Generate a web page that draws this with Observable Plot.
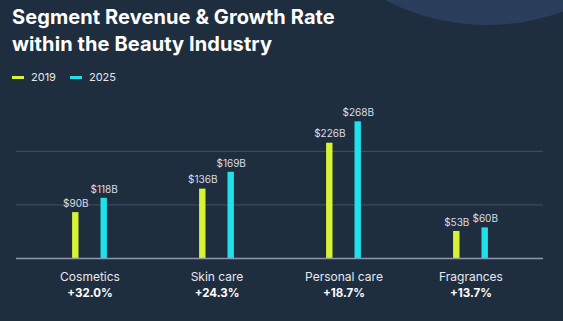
<!DOCTYPE html>
<html>
<head>
<meta charset="utf-8">
<script src="https://cdn.jsdelivr.net/npm/d3@7"></script>
<script src="https://cdn.jsdelivr.net/npm/@observablehq/plot@0.6"></script>
<style>
  html, body { margin: 0; padding: 0; background: #1f2e3f; }
  #wrap { position: relative; width: 563px; height: 321px; overflow: hidden; background: #1f2e3f; font-family: Inter, "Open Sans", sans-serif; }
  #blob { position: absolute; left: 267px; top: -415px; width: 440px; height: 440px; border-radius: 50%; background: #2a3e5c; }
  #title { position: absolute; left: 12px; top: 4px; color: #ffffff; font-weight: 700; font-size: 20px; line-height: 27px; letter-spacing: 0.1px; }
  #legend { position: absolute; left: 12px; top: 70px; display: flex; align-items: center; color: #e4e8ee; font-size: 11px; }
  #legend .sw { width: 12px; height: 3px; margin-right: 7px; }
  #legend .item { display: flex; align-items: center; margin-right: 14px; }
  #chart { position: absolute; left: 0; top: 95px; }
</style>
</head>
<body>
<div id="wrap">
  <div id="blob"></div>
  <div id="title">Segment Revenue &amp; Growth Rate<br>within the Beauty Industry</div>
  <div id="legend"></div>
  <div id="chart"></div>
</div>
<script>
const categories = ["Cosmetics", "Skin care", "Personal care", "Fragrances"];
const years = ["2019", "2025"];
const revenue2019 = [90, 136, 226, 53];
const revenue2025 = [118, 169, 268, 60];
const growth = ["+32.0%", "+24.3%", "+18.7%", "+13.7%"];
const gridTicks = [105, 210];
const colors = ["#d6f434", "#1fe1ea"];

const rows = [];
categories.forEach((c, i) => {
  rows.push({category: c, year: "2019", value: revenue2019[i]});
  rows.push({category: c, year: "2025", value: revenue2025[i]});
});
const catRows = categories.map((c, i) => ({category: c, growth: growth[i]}));

// legend
const legend = document.getElementById("legend");
years.forEach((y, i) => {
  const it = document.createElement("div");
  it.className = "item";
  it.innerHTML = `<span class="sw" style="background:${colors[i]}"></span><span>${y}</span>`;
  legend.appendChild(it);
});

const barInset = 60.3;
const off = 14.2;
const labelFill = "#d9dee6";

const chart = Plot.plot({
  width: 563,
  height: 226,
  marginLeft: 16,
  marginRight: 20,
  marginTop: 10,
  marginBottom: 63,
  style: {background: "transparent", fontFamily: "Inter, 'Open Sans', sans-serif", overflow: "visible"},
  x: {domain: categories, paddingInner: 0, paddingOuter: 0.0716, axis: null},
  y: {domain: [0, 300], axis: null},
  marks: [
    Plot.ruleY(gridTicks, {stroke: "#3b4b5e", strokeWidth: 1.2}),
    Plot.barY(rows.filter(d => d.year === "2019"), {x: "category", y: "value", fill: colors[0], insetLeft: barInset, insetRight: barInset, dx: -off}),
    Plot.barY(rows.filter(d => d.year === "2025"), {x: "category", y: "value", fill: colors[1], insetLeft: barInset, insetRight: barInset, dx: off}),
    Plot.ruleY([0], {stroke: "#8d9aab", strokeWidth: 1.5}),
    Plot.text(rows.filter(d => d.year === "2019"), {x: "category", y: "value", text: d => `$${d.value}B`, dx: -off, dy: -9, fill: labelFill, fontSize: 10}),
    Plot.text(rows.filter(d => d.year === "2025"), {x: "category", y: "value", text: d => `$${d.value}B`, dx: off, dy: -9, fill: labelFill, fontSize: 10}),
    Plot.text(catRows, {x: "category", text: "category", frameAnchor: "bottom", lineAnchor: "middle", dy: 18.5, fill: "#e6e9ee", fontSize: 12}),
    Plot.text(catRows, {x: "category", text: "growth", frameAnchor: "bottom", lineAnchor: "middle", dy: 35, fill: "#ffffff", fontSize: 11.5, fontWeight: 700})
  ]
});
document.getElementById("chart").appendChild(chart);
</script>
</body>
</html>
